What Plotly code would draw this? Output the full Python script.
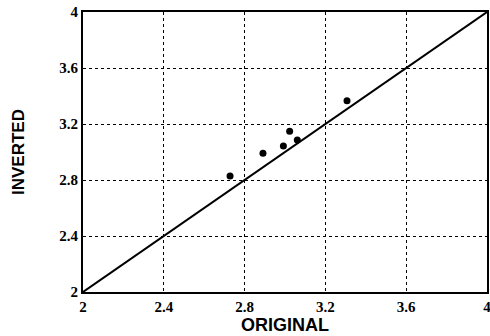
import plotly.graph_objects as go

# Original vs inverted values
original = [2.728, 2.891, 2.992, 3.023, 3.061, 3.307]
inverted = [2.829, 2.991, 3.043, 3.148, 3.086, 3.366]

# Identity reference line
identity = [2, 4]

tick_vals = [2, 2.4, 2.8, 3.2, 3.6, 4]
tick_text = ["2", "2.4", "2.8", "3.2", "3.6", "4"]

fig = go.Figure()
fig.add_trace(go.Scatter(
    x=identity, y=identity, mode="lines",
    line=dict(color="black", width=2), showlegend=False, hoverinfo="skip",
))
fig.add_trace(go.Scatter(
    x=original, y=inverted, mode="markers",
    marker=dict(color="black", size=7), showlegend=False,
))

axis_common = dict(
    range=[2, 4], tickvals=tick_vals, ticktext=tick_text,
    showgrid=True, gridcolor="black", griddash="dot", gridwidth=1.3,
    showline=True, linecolor="black", linewidth=2, mirror=True,
    zeroline=False, ticks="", ticklen=0,
    tickfont=dict(family="Liberation Serif", size=15, color="black", weight="bold"),
    ticklabeloverflow="allow",
    automargin=False,
)

fig.update_layout(
    width=490, height=336,
    margin=dict(l=83, r=3, t=12, b=44),
    paper_bgcolor="white", plot_bgcolor="white",
    xaxis=dict(**axis_common,
               title=dict(text="ORIGINAL", standoff=4,
                          font=dict(family="Liberation Sans", size=18, color="black", weight="bold"))),
    yaxis=dict(**axis_common,
               title=dict(text="INVERTED", standoff=30,
                          font=dict(family="Liberation Sans", size=17, color="black", weight="bold"))),
)

fig.write_html("out.html")
